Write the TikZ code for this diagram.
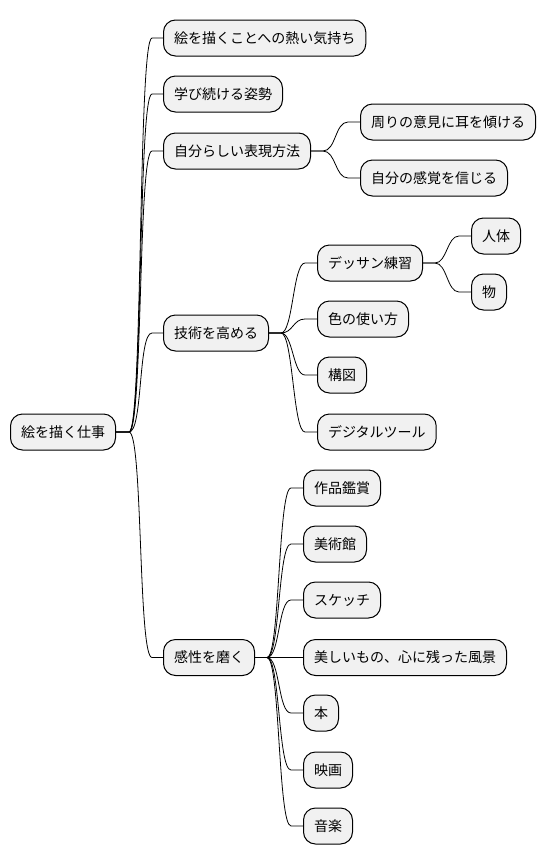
\documentclass[tikz,border=0pt]{standalone}
\usepackage{fontspec}
\setmainfont{Noto Sans CJK JP}
\definecolor{boxfill}{HTML}{F1F1F1}
\tikzset{
  topic/.style={draw, fill=boxfill, line width=1pt, rounded corners=12pt,
    minimum height=36pt, inner xsep=10.5pt, inner ysep=0pt, anchor=west,
    font=\fontsize{14pt}{16pt}\selectfont},
  edge/.style={line width=0.8pt}
}
\begin{document}
\begin{tikzpicture}[x=1pt,y=-1pt]
        \useasboundingbox (0,0) rectangle (544,865);
        \draw 
        (10,432) node[topic] (root) {絵を描く仕事}
        (163,38) node[topic] (passion) {絵を描くことへの熱い気持ち}
        (163,94) node[topic] (learn) {学び続ける姿勢}
        (163,151) node[topic] (style) {自分らしい表現方法}
        (163,333) node[topic] (skill) {技術を高める}
        (163,657.5) node[topic] (sense) {感性を磨く}
        (360,122) node[topic] (listen) {周りの意見に耳を傾ける}
        (360,178) node[topic] (trust) {自分の感覚を信じる}
        (317,263) node[topic] (dessin) {デッサン練習}
        (317,319) node[topic] (color) {色の使い方}
        (317,375) node[topic] (comp) {構図}
        (317,432) node[topic] (digital) {デジタルツール}
        (471,236) node[topic] (body) {人体}
        (471,292) node[topic] (object) {物}
        (303,488) node[topic] (works) {作品鑑賞}
        (303,544) node[topic] (museum) {美術館}
        (303,600) node[topic] (sketch) {スケッチ}
        (303,657.5) node[topic] (scenery) {美しいもの、心に残った風景}
        (303,713) node[topic] (book) {本}
        (303,770) node[topic] (movie) {映画}
        (303,826) node[topic] (music) {音楽}
        ;
        \draw[edge] (root.east) -- ++(13,0) .. controls +(14,0) and +(-14,0) .. ([xshift=-11]passion.west) -- (passion.west);
        \draw[edge] (root.east) -- ++(13,0) .. controls +(14,0) and +(-14,0) .. ([xshift=-11]learn.west) -- (learn.west);
        \draw[edge] (root.east) -- ++(13,0) .. controls +(14,0) and +(-14,0) .. ([xshift=-11]style.west) -- (style.west);
        \draw[edge] (root.east) -- ++(13,0) .. controls +(14,0) and +(-14,0) .. ([xshift=-11]skill.west) -- (skill.west);
        \draw[edge] (root.east) -- ++(13,0) .. controls +(14,0) and +(-14,0) .. ([xshift=-11]sense.west) -- (sense.west);
        \draw[edge] (style.east) -- ++(12,0) .. controls +(13,0) and +(-13,0) .. ([xshift=-12]listen.west) -- (listen.west);
        \draw[edge] (style.east) -- ++(12,0) .. controls +(13,0) and +(-13,0) .. ([xshift=-12]trust.west) -- (trust.west);
        \draw[edge] (skill.east) -- ++(12,0) .. controls +(12,0) and +(-12,0) .. ([xshift=-12]dessin.west) -- (dessin.west);
        \draw[edge] (skill.east) -- ++(12,0) .. controls +(12,0) and +(-12,0) .. ([xshift=-12]color.west) -- (color.west);
        \draw[edge] (skill.east) -- ++(12,0) .. controls +(12,0) and +(-12,0) .. ([xshift=-12]comp.west) -- (comp.west);
        \draw[edge] (skill.east) -- ++(12,0) .. controls +(12,0) and +(-12,0) .. ([xshift=-12]digital.west) -- (digital.west);
        \draw[edge] (dessin.east) -- ++(12,0) .. controls +(12,0) and +(-12,0) .. ([xshift=-12]body.west) -- (body.west);
        \draw[edge] (dessin.east) -- ++(12,0) .. controls +(12,0) and +(-12,0) .. ([xshift=-12]object.west) -- (object.west);
        \draw[edge] (sense.east) -- ++(12,0) .. controls +(13,0) and +(-13,0) .. ([xshift=-12]works.west) -- (works.west);
        \draw[edge] (sense.east) -- ++(12,0) .. controls +(13,0) and +(-13,0) .. ([xshift=-12]museum.west) -- (museum.west);
        \draw[edge] (sense.east) -- ++(12,0) .. controls +(13,0) and +(-13,0) .. ([xshift=-12]sketch.west) -- (sketch.west);
        \draw[edge] (sense.east) -- (scenery.west);
        \draw[edge] (sense.east) -- ++(12,0) .. controls +(13,0) and +(-13,0) .. ([xshift=-12]book.west) -- (book.west);
        \draw[edge] (sense.east) -- ++(12,0) .. controls +(13,0) and +(-13,0) .. ([xshift=-12]movie.west) -- (movie.west);
        \draw[edge] (sense.east) -- ++(12,0) .. controls +(13,0) and +(-13,0) .. ([xshift=-12]music.west) -- (music.west);
        ;
    \end{tikzpicture}
\end{document}
